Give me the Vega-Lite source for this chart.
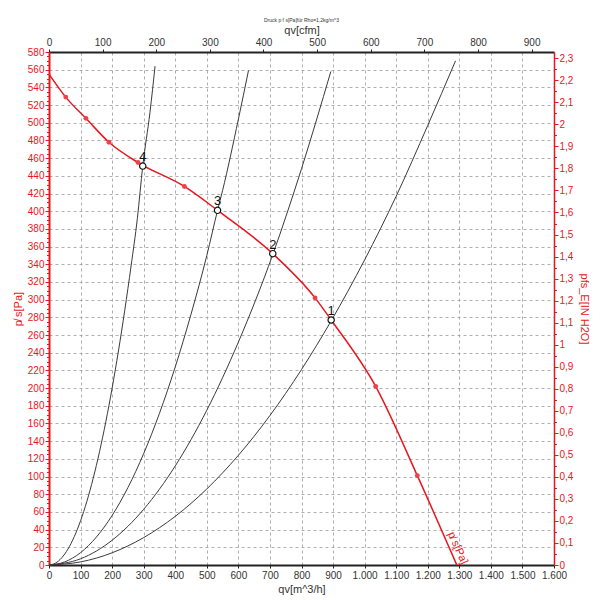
{
  "$schema": "https://vega.github.io/schema/vega-lite/v6.json",
  "width": 505,
  "height": 513,
  "autosize": {"type": "none"},
  "padding": {"left": 49, "top": 52, "right": 46, "bottom": 35},
  "title": {"text": "Druck p f s[Pa]für Rho=1,2kg/m^3", "fontSize": 5, "font": "Liberation Sans", "fontWeight": "normal", "color": "#333", "anchor": "middle", "offset": 1},
  "config": {
    "font": "Liberation Sans",
    "view": {"stroke": null},
    "axis": {"labelFontSize": 10, "titleFontSize": 11, "titleFontWeight": "normal", "labelFont": "Liberation Sans", "titleFont": "Liberation Sans", "labelOverlap": false, "labelFlush": false}
  },
  "datasets": {
    "sys": [
      {"c": "4", "q": 0, "p": 0}, {"c": "4", "q": 20, "p": 2}, {"c": "4", "q": 40, "p": 8}, {"c": "4", "q": 60, "p": 18}, {"c": "4", "q": 80, "p": 32}, {"c": "4", "q": 100, "p": 50}, {"c": "4", "q": 120, "p": 72}, {"c": "4", "q": 140, "p": 98}, {"c": "4", "q": 160, "p": 128}, {"c": "4", "q": 180, "p": 162}, {"c": "4", "q": 200, "p": 200}, {"c": "4", "q": 220, "p": 242}, {"c": "4", "q": 240, "p": 288}, {"c": "4", "q": 260, "p": 338}, {"c": "4", "q": 280, "p": 392}, {"c": "4", "q": 297, "p": 451}, {"c": "4", "q": 320, "p": 512}, {"c": "4", "q": 336, "p": 564},
      {"c": "3", "q": 0, "p": 0}, {"c": "3", "q": 50, "p": 3.5}, {"c": "3", "q": 100, "p": 14}, {"c": "3", "q": 150, "p": 31.5}, {"c": "3", "q": 200, "p": 56}, {"c": "3", "q": 250, "p": 87.5}, {"c": "3", "q": 300, "p": 126}, {"c": "3", "q": 350, "p": 171.5}, {"c": "3", "q": 400, "p": 224}, {"c": "3", "q": 450, "p": 283.5}, {"c": "3", "q": 500, "p": 350}, {"c": "3", "q": 534, "p": 401}, {"c": "3", "q": 550, "p": 423.5}, {"c": "3", "q": 600, "p": 504}, {"c": "3", "q": 632, "p": 559},
      {"c": "2", "q": 0, "p": 0}, {"c": "2", "q": 100, "p": 7}, {"c": "2", "q": 200, "p": 28}, {"c": "2", "q": 300, "p": 63}, {"c": "2", "q": 400, "p": 112}, {"c": "2", "q": 500, "p": 175}, {"c": "2", "q": 600, "p": 252}, {"c": "2", "q": 709, "p": 351}, {"c": "2", "q": 800, "p": 448}, {"c": "2", "q": 893, "p": 558},
      {"c": "1", "q": 0, "p": 0}, {"c": "1", "q": 100, "p": 3.5}, {"c": "1", "q": 200, "p": 13.8}, {"c": "1", "q": 300, "p": 31}, {"c": "1", "q": 400, "p": 55}, {"c": "1", "q": 500, "p": 86}, {"c": "1", "q": 600, "p": 124}, {"c": "1", "q": 700, "p": 169}, {"c": "1", "q": 800, "p": 221}, {"c": "1", "q": 894, "p": 276}, {"c": "1", "q": 1000, "p": 345}, {"c": "1", "q": 1100, "p": 417}, {"c": "1", "q": 1200, "p": 497}, {"c": "1", "q": 1288, "p": 570}
    ],
    "fan": [
      {"q": 0, "p": 555}, {"q": 53, "p": 529}, {"q": 117, "p": 505}, {"q": 190, "p": 478}, {"q": 282, "p": 455}, {"q": 429, "p": 428}, {"q": 534, "p": 401}, {"q": 709, "p": 352}, {"q": 843, "p": 302}, {"q": 894, "p": 277}, {"q": 1035, "p": 202}, {"q": 1167, "p": 101}, {"q": 1292, "p": 0}
    ],
    "markers": [
      {"q": 53, "p": 529}, {"q": 117, "p": 505}, {"q": 190, "p": 478}, {"q": 282, "p": 455}, {"q": 429, "p": 428}, {"q": 843, "p": 302}, {"q": 1035, "p": 202}, {"q": 1167, "p": 101}
    ],
    "ops": [
      {"q": 894, "p": 277, "label": "1"}, {"q": 709, "p": 352, "label": "2"}, {"q": 534, "p": 401, "label": "3"}, {"q": 297, "p": 451, "label": "4"}
    ],
    "curvelabel": [{"q": 1294, "p": 19, "label": "p̸ s[Pa]"}],
    "axdata": [{"q": 0, "p": 0}, {"q": 1600, "p": 580}],
    "sec": [{"cfm": 0, "inh": 0}, {"cfm": 941.76, "inh": 2.3285}],
    "minorPa": [{"p": 0}, {"p": 580}],
    "minorIn": [{"inh": 0}, {"inh": 2.3285}]
  },
  "layer": [
    {
      "data": {"name": "axdata"},
      "mark": {"type": "point", "opacity": 0},
      "encoding": {
        "x": {"field": "q", "type": "quantitative", "scale": {"domain": [0, 1600], "nice": false, "zero": false},
          "axis": {"orient": "bottom", "title": "qv[m^3/h]", "values": [0,100,200,300,400,500,600,700,800,900,1000,1100,1200,1300,1400,1500,1600], "tickCount": 17,
            "labelExpr": "replace(format(datum.value, ','), ',', '.')", "labelOverlap": false, "labelFlush": false, "labelSeparation": 0,
            "domainColor": "#222", "domainWidth": 2, "tickColor": "#222", "tickSize": 3, "labelColor": "#333", "titleColor": "#333", "labelPadding": 2, "titlePadding": 3,
            "grid": true, "gridColor": "#9a9a9a", "gridDash": [3, 3], "gridWidth": 0.8}},
        "y": {"field": "p", "type": "quantitative", "scale": {"domain": [0, 580], "nice": false, "zero": false},
          "axis": {"orient": "left", "title": "p̸ s[Pa]", "values": [0,20,40,60,80,100,120,140,160,180,200,220,240,260,280,300,320,340,360,380,400,420,440,460,480,500,520,540,560,580], "tickCount": 30,
            "labelOverlap": false, "labelFlush": false, "labelSeparation": 0,
            "domainColor": "#e8161e", "domainWidth": 2, "tickColor": "#e8161e", "tickSize": 4, "labelColor": "#e8161e", "titleColor": "#e8161e", "labelPadding": 1, "titlePadding": 4,
            "grid": true, "gridColor": "#9a9a9a", "gridDash": [3, 3], "gridWidth": 0.8}}
      }
    },
    {
      "layer": [
        {
          "data": {"name": "sys"},
          "mark": {"type": "line", "color": "#3a3a3a", "strokeWidth": 1, "interpolate": "monotone"},
          "encoding": {
            "x": {"field": "q", "type": "quantitative", "scale": {"domain": [0, 1600], "nice": false, "zero": false}, "axis": null},
            "y": {"field": "p", "type": "quantitative", "scale": {"domain": [0, 580], "nice": false, "zero": false}, "axis": null},
            "detail": {"field": "c", "type": "nominal"}
          }
        },
        {
          "data": {"name": "fan"},
          "mark": {"type": "line", "color": "#e8161e", "strokeWidth": 1.5, "interpolate": "monotone"},
          "encoding": {"x": {"field": "q", "type": "quantitative"}, "y": {"field": "p", "type": "quantitative"}}
        },
        {
          "data": {"name": "markers"},
          "mark": {"type": "point", "shape": "circle", "filled": true, "color": "#f0404a", "size": 24, "opacity": 1},
          "encoding": {"x": {"field": "q", "type": "quantitative"}, "y": {"field": "p", "type": "quantitative"}}
        },
        {
          "data": {"name": "ops"},
          "mark": {"type": "point", "shape": "circle", "filled": true, "fill": "white", "stroke": "#111", "strokeWidth": 1.2, "size": 40, "opacity": 1},
          "encoding": {"x": {"field": "q", "type": "quantitative"}, "y": {"field": "p", "type": "quantitative"}}
        },
        {
          "data": {"name": "ops"},
          "mark": {"type": "text", "color": "#111", "fontSize": 13, "dy": -9, "align": "center", "baseline": "middle", "font": "Liberation Sans"},
          "encoding": {"x": {"field": "q", "type": "quantitative"}, "y": {"field": "p", "type": "quantitative"}, "text": {"field": "label"}}
        },
        {
          "data": {"name": "curvelabel"},
          "mark": {"type": "text", "color": "#e8161e", "fontSize": 11, "angle": 66, "align": "center", "baseline": "middle", "font": "Liberation Sans"},
          "encoding": {"x": {"field": "q", "type": "quantitative"}, "y": {"field": "p", "type": "quantitative"}, "text": {"field": "label"}}
        }
      ]
    },
    {
      "data": {"name": "sec"},
      "mark": {"type": "point", "opacity": 0},
      "encoding": {
        "x": {"field": "cfm", "type": "quantitative", "scale": {"domain": [0, 941.76], "nice": false, "zero": false},
          "axis": {"orient": "top", "title": "qv[cfm]", "values": [0,100,200,300,400,500,600,700,800,900], "tickCount": 10, "labelOverlap": false, "domainColor": "#222", "domainWidth": 2, "tickColor": "#222", "tickSize": 3, "labelColor": "#333", "titleColor": "#333", "labelPadding": 2, "titlePadding": 2, "grid": false}},
        "y": {"field": "inh", "type": "quantitative", "scale": {"domain": [0, 2.3285], "nice": false, "zero": false},
          "axis": {"orient": "right", "title": "pfs_E[IN H2O]", "titleAngle": 90, "values": [0,0.1,0.2,0.3,0.4,0.5,0.6,0.7,0.8,0.9,1,1.1,1.2,1.3,1.4,1.5,1.6,1.7,1.8,1.9,2,2.1,2.2,2.3], "tickCount": 24,
            "labelExpr": "replace(format(datum.value, '.2~f'), '.', ',')", "labelOverlap": false,
            "domainColor": "#e8161e", "domainWidth": 1.5, "tickColor": "#e8161e", "tickSize": 4, "labelColor": "#e8161e", "titleColor": "#e8161e", "labelPadding": 1, "titlePadding": 6, "grid": false}}
      }
    },
    {
      "data": {"name": "minorPa"},
      "mark": {"type": "point", "opacity": 0},
      "encoding": {
        "y": {"field": "p", "type": "quantitative", "scale": {"domain": [0, 580], "nice": false, "zero": false},
          "axis": {"orient": "left", "title": null, "labels": false, "domain": false, "grid": false, "tickColor": "#e8161e", "tickSize": 2.5, "tickCount": 87,
            "values": [5,10,15,25,30,35,45,50,55,65,70,75,85,90,95,105,110,115,125,130,135,145,150,155,165,170,175,185,190,195,205,210,215,225,230,235,245,250,255,265,270,275,285,290,295,305,310,315,325,330,335,345,350,355,365,370,375,385,390,395,405,410,415,425,430,435,445,450,455,465,470,475,485,490,495,505,510,515,525,530,535,545,550,555,565,570,575]}}
      }
    },
    {
      "data": {"name": "minorIn"},
      "mark": {"type": "point", "opacity": 0},
      "encoding": {
        "y": {"field": "inh", "type": "quantitative", "scale": {"domain": [0, 2.3285], "nice": false, "zero": false},
          "axis": {"orient": "right", "title": null, "labels": false, "domain": false, "grid": false, "tickColor": "#e8161e", "tickSize": 2.5, "tickCount": 23,
            "values": [0.05,0.15,0.25,0.35,0.45,0.55,0.65,0.75,0.85,0.95,1.05,1.15,1.25,1.35,1.45,1.55,1.65,1.75,1.85,1.95,2.05,2.15,2.25]}}
      }
    }
  ],
  "resolve": {"scale": {"x": "independent", "y": "independent"}, "axis": {"x": "independent", "y": "independent"}}
}
